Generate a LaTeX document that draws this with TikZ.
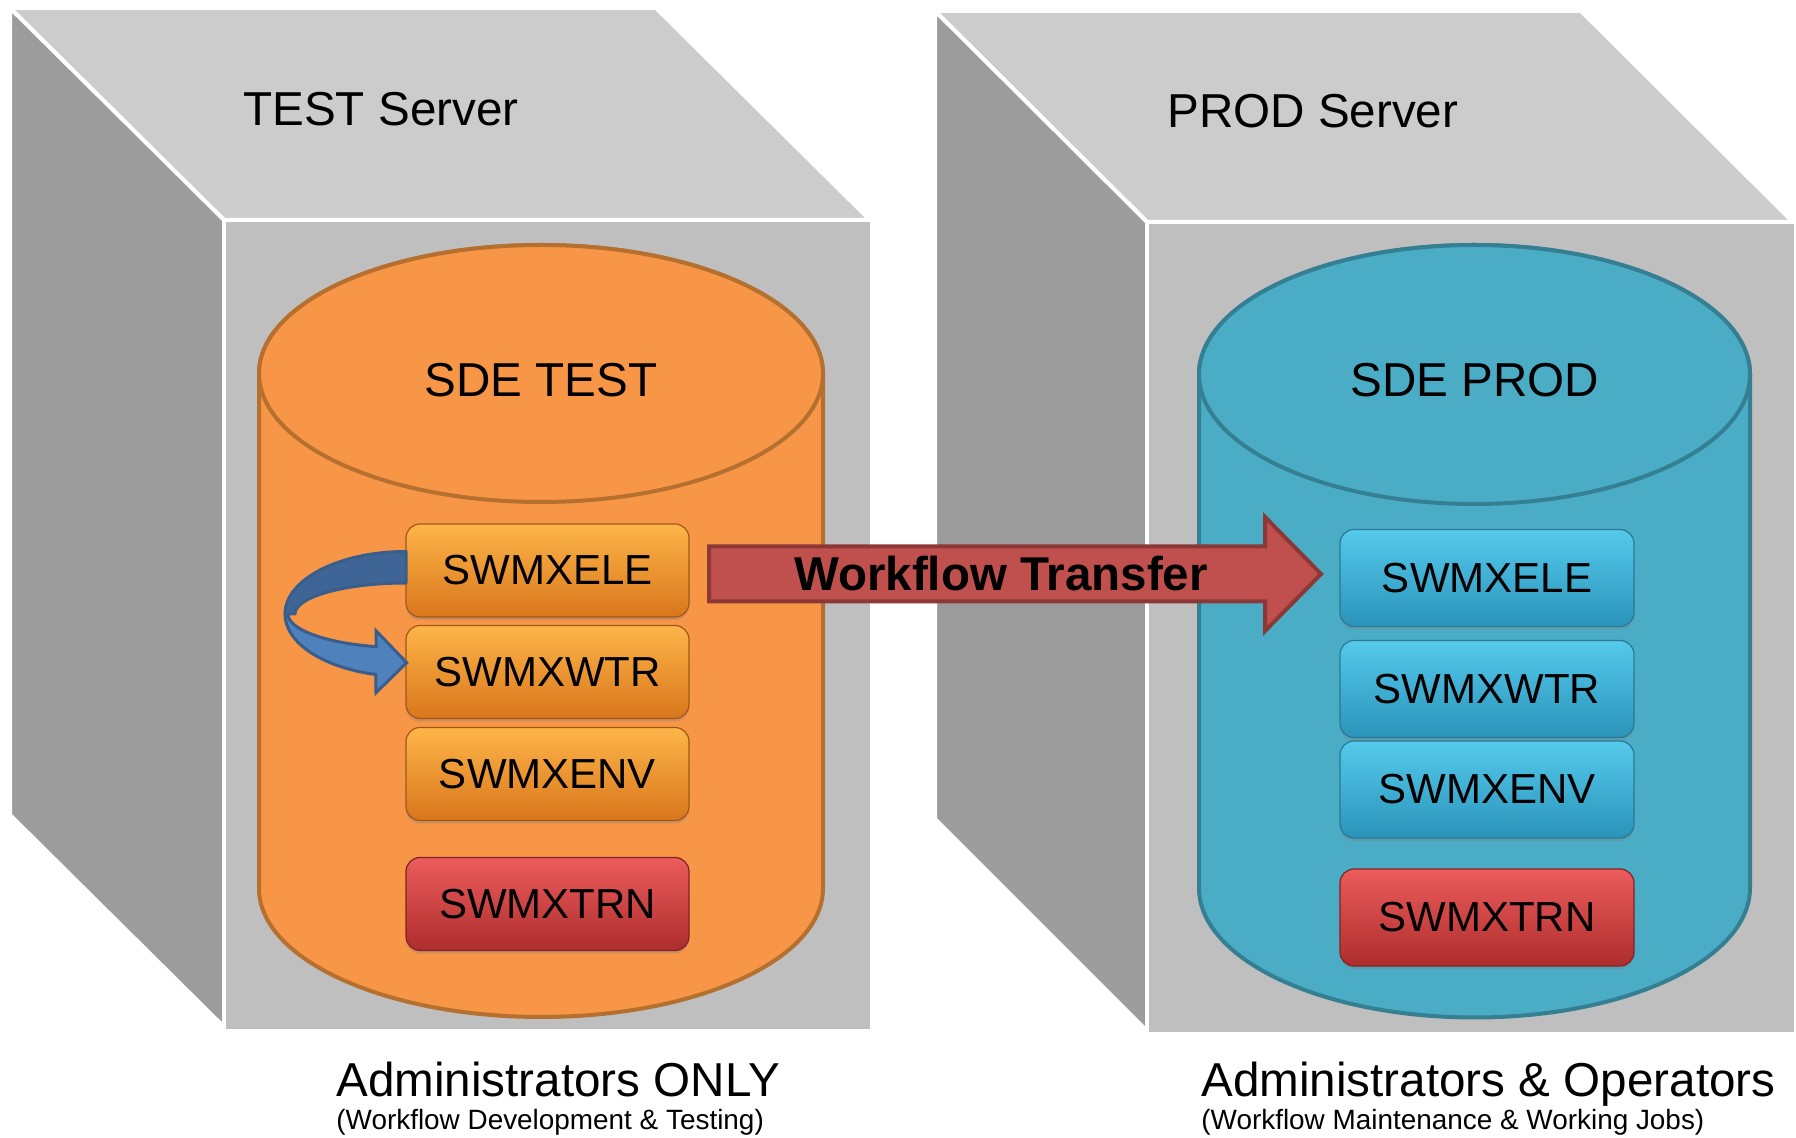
\documentclass[tikz,border=0pt]{standalone}
\usepackage{fontspec}
\setmainfont{Liberation Sans}
\usetikzlibrary{shadows}
\definecolor{ctop}{HTML}{CCCCCC}
\definecolor{cleft}{HTML}{9C9C9C}
\definecolor{cfront}{HTML}{BFBFBF}
\definecolor{orfill}{HTML}{F79646}
\definecolor{ordraw}{HTML}{B5702F}
\definecolor{blfill}{HTML}{4BACC6}
\definecolor{bldraw}{HTML}{357F93}
\definecolor{ortop}{HTML}{FDB548}
\definecolor{ormid}{HTML}{F7931E}
\definecolor{orbot}{HTML}{D9761C}
\definecolor{orline}{HTML}{A0581A}
\definecolor{bltop}{HTML}{55CAEB}
\definecolor{blmid}{HTML}{35B2DA}
\definecolor{blbot}{HTML}{2A93BA}
\definecolor{blline}{HTML}{2A7893}
\definecolor{rdtop}{HTML}{EC5C5C}
\definecolor{rdmid}{HTML}{D33F3F}
\definecolor{rdbot}{HTML}{AE2D2D}
\definecolor{rdline}{HTML}{7E2424}
\definecolor{wffill}{HTML}{C0504D}
\definecolor{wfdraw}{HTML}{8C3836}
\definecolor{cadark}{HTML}{3E6595}
\definecolor{calight}{HTML}{4F81BD}
\definecolor{caline}{HTML}{3A5E8C}
\begin{document}
\begin{tikzpicture}[x=0.5pt,y=-0.5pt,
  every node/.style={inner sep=0pt, text=black},
  face/.style={draw=white, line width=2pt, line join=round},
  cyl/.style={line width=2pt},
  btn/.style={rounded corners=7pt, inner sep=0pt,
    font=\fontsize{21pt}{25pt}\selectfont, line width=0.6pt,
    drop shadow={opacity=0.35, shadow xshift=0pt, shadow yshift=-1.5pt}},
  btnleft/.style={btn, minimum width=141.5pt, minimum height=46.5pt},
  btnright/.style={btn, minimum width=147pt, minimum height=48.5pt},
  orbtn/.style={draw=orline, top color=ortop, middle color=ormid, bottom color=orbot},
  blbtn/.style={draw=blline, top color=bltop, middle color=blmid, bottom color=blbot},
  rdbtn/.style={draw=rdline, top color=rdtop, middle color=rdmid, bottom color=rdbot},
  bigtitle/.style={font=\fontsize{23.8pt}{28pt}\selectfont},
  subtitle/.style={font=\fontsize{13.95pt}{16pt}\selectfont}
]
\useasboundingbox (0,0) rectangle (1796,1138);

% ---- TEST server cube
\filldraw[face, fill=ctop] (10,8) -- (656,8) -- (870,220) -- (224,220) -- cycle;
\filldraw[face, fill=cleft] (10,8) -- (224,220) -- (224,1027) -- (10,815) -- cycle;
\filldraw[face, fill=cfront] (224,220) -- (872,220) -- (872,1031) -- (224,1031) -- cycle;

% ---- PROD server cube
\filldraw[face, fill=ctop] (935,11) -- (1581,11) -- (1793,222) -- (1147,222) -- cycle;
\filldraw[face, fill=cleft] (935,11) -- (1147,222) -- (1147,1031) -- (935,819) -- cycle;
\filldraw[face, fill=cfront] (1147,222) -- (1796,222) -- (1796,1034) -- (1147,1034) -- cycle;

% ---- cylinders
\filldraw[cyl, fill=orfill, draw=ordraw] (259,373.5) -- (259,888.5)
  arc[start angle=180, end angle=0, x radius=282, y radius=128.5]
  -- (823,373.5) arc[start angle=0, end angle=-180, x radius=282, y radius=128.5] -- cycle;
\filldraw[cyl, fill=orfill, draw=ordraw] (541,373.5) ellipse[x radius=282, y radius=128.5];

\filldraw[cyl, fill=blfill, draw=bldraw] (1199,374.5) -- (1199,888)
  arc[start angle=180, end angle=0, x radius=275.5, y radius=129.5]
  -- (1750,374.5) arc[start angle=0, end angle=-180, x radius=275.5, y radius=129.5] -- cycle;
\filldraw[cyl, fill=blfill, draw=bldraw] (1474.5,374.5) ellipse[x radius=275.5, y radius=129.5];

% ---- titles
\node[bigtitle, anchor=base west] (testsrv) at (243,126) {TEST Server};
\node[bigtitle, anchor=base west] (prodsrv) at (1167,128) {PROD Server};
\node[bigtitle, anchor=base] (sdetest) at (541,397) {SDE TEST};
\node[bigtitle, anchor=base] (sdeprod) at (1475,397) {SDE PROD};

% ---- left buttons
\node[btnleft, orbtn] (lele) at (547.5,570.5) {SWMXELE};
\node[btnleft, orbtn] (lwtr) at (547.5,672) {SWMXWTR};
\node[btnleft, orbtn] (lenv) at (547.5,774) {SWMXENV};
\node[btnleft, rdbtn] (ltrn) at (547.5,904) {SWMXTRN};

% ---- right buttons
\node[btnright, blbtn] (rele) at (1487,578) {SWMXELE};
\node[btnright, blbtn] (rwtr) at (1487,689) {SWMXWTR};
\node[btnright, blbtn] (renv) at (1487,789.5) {SWMXENV};
\node[btnright, rdbtn] (rtrn) at (1487,917.5) {SWMXTRN};

% ---- curved blue arrow (SWMXELE -> SWMXWTR)
\filldraw[fill=cadark, draw=caline, line width=1.5pt, line join=round]
  (406,551.5) arc[start angle=270, end angle=180, x radius=121, y radius=62.5]
  -- (295,614) arc[start angle=180, end angle=270, x radius=111, y radius=31] -- cycle;
\filldraw[fill=calight, draw=caline, line width=1.5pt, line join=miter]
  (285,614) arc[start angle=180, end angle=104.4, x radius=121, y radius=62.5]
  -- (376,692.7) -- (406.7,662.7) -- (376,630.7) -- (376,646.7)
  arc[start angle=104.7, end angle=180, x radius=118, y radius=34] -- cycle;

% ---- Workflow Transfer arrow
\coordinate (wfs) at (709,574);
\coordinate (wft) at (1321,574);
\filldraw[fill=wffill, draw=wfdraw, line width=2pt, line join=miter]
  (wfs) ++(0,-27.5) -- ++(556,0) -- ++(0,-29.5) -- (wft) -- ++(-56,57)
  -- ++(0,-29.5) -- ++(-556,0) -- cycle;
\node[font=\fontsize{23.75pt}{28pt}\selectfont\bfseries] (wflabel) at (1001,574) {Workflow Transfer};

% ---- captions
\node[bigtitle, anchor=base west] (admonly) at (336,1096) {Administrators ONLY};
\node[subtitle, anchor=base west] (devtest) at (336,1130) {(Workflow Development \& Testing)};
\node[bigtitle, anchor=base west] (admops) at (1201,1096) {Administrators \& Operators};
\node[subtitle, anchor=base west] (mainjobs) at (1201,1130) {(Workflow Maintenance \& Working Jobs)};
\end{tikzpicture}
\end{document}
